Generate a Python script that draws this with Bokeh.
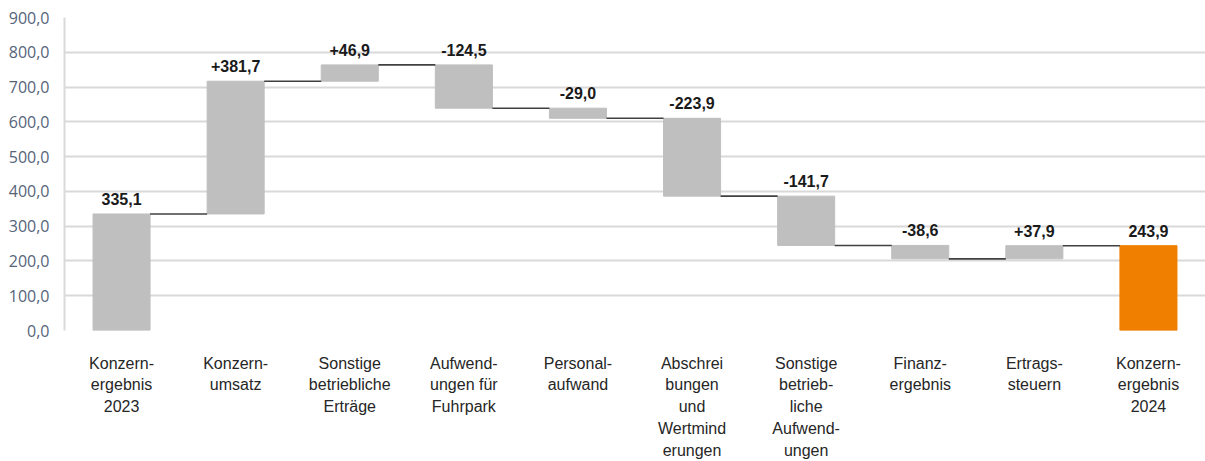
from bokeh.plotting import figure
from bokeh.models import Range1d, FixedTicker, ColumnDataSource
from bokeh.core.properties import value
from bokeh.embed import file_html
from bokeh.resources import INLINE

categories = ["Konzern-\nergebnis\n2023", "Konzern-\numsatz", "Sonstige\nbetriebliche\nErträge",
              "Aufwend-\nungen für\nFuhrpark", "Personal-\naufwand", "Abschrei\nbungen\nund\nWertmind\nerungen",
              "Sonstige\nbetrieb-\nliche\nAufwend-\nungen", "Finanz-\nergebnis", "Ertrags-\nsteuern",
              "Konzern-\nergebnis\n2024"]
values = [335.1, 381.7, 46.9, -124.5, -29.0, -223.9, -141.7, -38.6, 37.9, 243.9]
is_total = [True, False, False, False, False, False, False, False, False, True]
y_ticks = [0, 100, 200, 300, 400, 500, 600, 700, 800, 900]

GRAY = "#bfbfbf"
ORANGE = "#f07f00"
SANS = "Liberation Sans"

def de(v, sign):
    s = f"{abs(v):.1f}".replace(".", ",")
    if v < 0:
        return "-" + s
    return ("+" + s) if sign else s

xs, bottoms, tops, colors, labels = [], [], [], [], []
running = 0.0
for i, (v, t) in enumerate(zip(values, is_total)):
    if t:
        b, tp = 0.0, v
        running = v
        colors.append(ORANGE if i == len(values) - 1 else GRAY)
        labels.append(de(v, False))
    else:
        b, tp = running, running + v
        running = running + v
        colors.append(GRAY)
        labels.append(de(v, True))
    xs.append(i)
    bottoms.append(min(b, tp))
    tops.append(max(b, tp))

ends = []
run = 0.0
for v, t in zip(values, is_total):
    run = v if t else run + v
    ends.append(run)

src = ColumnDataSource(dict(x=xs, bottom=bottoms, top=tops, color=colors, label=labels))

p = figure(width=1205, height=461, output_backend="svg", toolbar_location=None,
           x_range=Range1d(-0.5, len(categories) - 0.5), y_range=Range1d(0, 900),
           min_border_left=64, min_border_right=0, min_border_top=17, min_border_bottom=0)
p.outline_line_color = None
p.background_fill_color = "white"

p.vbar(x="x", bottom="bottom", top="top", width=0.5, color="color", source=src)

seg_x0 = [i + 0.25 for i in range(len(values) - 1)]
seg_x1 = [i + 0.75 for i in range(len(values) - 1)]
p.segment(x0=seg_x0, y0=ends[:-1], x1=seg_x1, y1=ends[:-1], line_color="#404040", line_width=1.6)

p.text(x="x", y="top", text="label", source=src, text_align="center", text_baseline="bottom",
       y_offset=-9, text_font=value(SANS),
       text_font_style="bold", text_font_size="16px", text_color="#1a1a1a")

p.xgrid.grid_line_color = None
p.ygrid.grid_line_color = "#d9d9d9"
p.ygrid.grid_line_width = 2
p.ygrid.ticker = FixedTicker(ticks=y_ticks)

p.yaxis.ticker = FixedTicker(ticks=y_ticks)
p.yaxis.major_label_overrides = {t: f"{t:.1f}".replace(".", ",") for t in y_ticks}
p.yaxis.axis_line_color = "#d9d9d9"
p.yaxis.axis_line_width = 2
p.yaxis.major_tick_line_color = None
p.yaxis.minor_tick_line_color = None
p.yaxis.major_label_text_font = "Open Sans"
p.yaxis.major_label_text_font_size = "16px"
p.yaxis.major_label_text_color = "#56647a"
p.yaxis.major_label_standoff = 9

p.xaxis.ticker = FixedTicker(ticks=xs)
p.xaxis.major_label_overrides = {i: c for i, c in enumerate(categories)}
p.xaxis.axis_line_color = None
p.xaxis.major_tick_line_color = None
p.xaxis.minor_tick_line_color = None
p.xaxis.major_label_text_font = SANS
p.xaxis.major_label_text_font_size = "16px"
p.xaxis.major_label_text_color = "#262626"
p.xaxis.major_label_text_line_height = 1.28
p.xaxis.major_label_standoff = 18

open("out.html", "w").write(file_html(p, INLINE))
